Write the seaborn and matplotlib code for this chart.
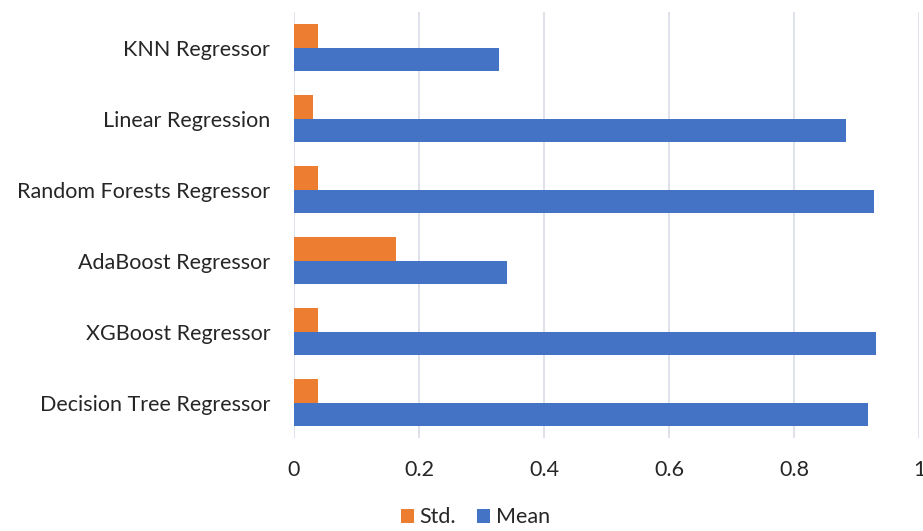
import pandas as pd
import matplotlib.pyplot as plt
import seaborn as sns

# Values
models = ["KNN Regressor", "Linear Regression", "Random Forests Regressor",
          "AdaBoost Regressor", "XGBoost Regressor", "Decision Tree Regressor"]
std_vals = [0.039, 0.031, 0.039, 0.164, 0.039, 0.038]
mean_vals = [0.328, 0.883, 0.928, 0.341, 0.931, 0.918]

df = pd.DataFrame({
    "Model": models * 2,
    "Metric": ["Std."] * len(models) + ["Mean"] * len(models),
    "Value": std_vals + mean_vals,
})

sns.set_theme(style="white")
plt.rcParams['font.family'] = ['Lato', 'DejaVu Sans']

fig, ax = plt.subplots(figsize=(9.23, 5.31), dpi=100)
fig.subplots_adjust(left=0.3185, right=0.9957, top=0.977, bottom=0.175)

sns.barplot(data=df, y="Model", x="Value", hue="Metric", order=models,
            hue_order=["Std.", "Mean"], palette=["#ED7D31", "#4472C4"],
            saturation=1, width=0.66, orient="h", ax=ax, edgecolor="none")

ax.set_xlim(0, 1)
ax.set_xticks([0, 0.2, 0.4, 0.6, 0.8, 1.0])
ax.set_xticklabels(["0", "0.2", "0.4", "0.6", "0.8", "1"])
ax.grid(axis="x", color="#D9DDE6", linewidth=1.2)
ax.set_axisbelow(True)
for s in ax.spines.values():
    s.set_visible(False)
ax.tick_params(axis="x", labelsize=15.5, pad=16, length=0, colors="#262626")
ax.tick_params(axis="y", labelsize=15.5, pad=17, length=0, colors="#262626")
ax.set_xlabel("")
ax.set_ylabel("")

ax.legend(loc="center", bbox_to_anchor=(0.29, -0.186), ncol=2, frameon=False,
          fontsize=15.5, handlelength=0.6, handleheight=0.6, handletextpad=0.25,
          columnspacing=1.0, borderaxespad=0)

plt.savefig("out.png", dpi=100)
